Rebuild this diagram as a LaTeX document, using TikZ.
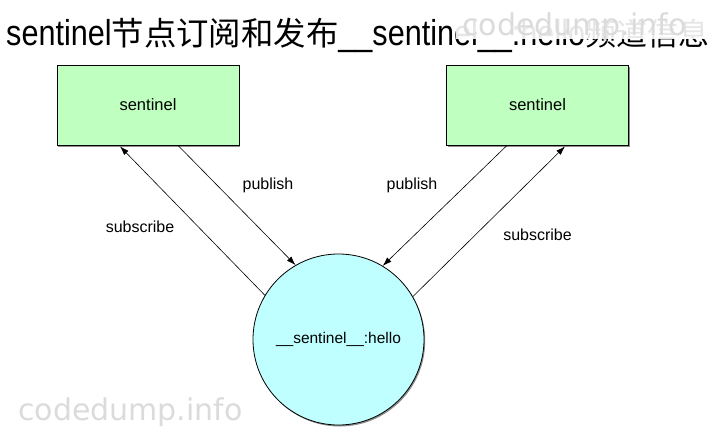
\documentclass[tikz,border=0pt]{standalone}
\usepackage{fontspec}
\setmainfont{Liberation Sans}
\newfontfamily\titlefont[FakeStretch=0.85]{Liberation Sans}
\newfontfamily\cjk{Noto Sans CJK SC}
\newfontfamily\wmfont{DejaVu Sans}
\usetikzlibrary{arrows.meta,shadows,calc}
\definecolor{boxgreen}{RGB}{191,255,191}
\definecolor{circcyan}{RGB}{191,255,255}
\begin{document}
\begin{tikzpicture}[x=1pt,y=-1pt,
  sbox/.style={draw=black, fill=boxgreen, line width=0.8pt, minimum width=182pt, minimum height=80pt, inner sep=0pt,
    font=\fontsize{16.5}{18}\selectfont, drop shadow={shadow xshift=1.2pt,shadow yshift=-1.5pt,opacity=0.45,fill=black}},
  chan/.style={circle, draw=black, fill=circcyan, line width=0.8pt, minimum size=171pt, inner sep=0pt,
    font=\fontsize{15.5}{18}\selectfont, drop shadow={shadow xshift=1.2pt,shadow yshift=-1.5pt,opacity=0.45,fill=black}},
  lbl/.style={font=\fontsize{16}{18}\selectfont, inner sep=0pt},
  conn/.style={draw=black, line width=0.6pt, -{Latex[length=9pt,width=6pt]}},
  wm/.style={text=gray!28, font=\wmfont\fontsize{30}{32}\selectfont, inner sep=0pt}
]
\useasboundingbox (0,0) rectangle (723,431);
% title
\node[anchor=base west, inner sep=0pt] (title) at (6,45)
  {{\titlefont\fontsize{36}{40}\selectfont sentinel}{\cjk\fontsize{32.4}{40}\selectfont 节点订阅和发布}{\titlefont\fontsize{36}{40}\selectfont \_\_sentinel\_\_:hello}{\cjk\fontsize{31}{40}\selectfont 频道信息}};
% watermark over title
\fill[white, opacity=0.9] (456,4) rectangle (723,39);
\node[wm, anchor=base west] (wm1) at (462,35) {codedump.info};
% nodes
\node[sbox] (s1) at (148,105) {sentinel};
\node[sbox] (s2) at (537.5,105) {sentinel};
\node[chan] (ch) at (338.5,339.5) {\_\_sentinel\_\_:hello};
% connectors
\draw[conn] (ch.149.5) -- ($(s1.south)+(-28pt,-1pt)$);
\draw[conn] ($(s1.south)+(30pt,0pt)$) -- (ch.120.7);
\draw[conn] ($(s2.south)+(-30.5pt,0pt)$) -- (ch.59.1);
\draw[conn] (ch.30.8) -- ($(s2.south)+(27.5pt,-1pt)$);
% labels
\node[lbl] (pl) at (268,185) {publish};
\node[lbl] (sl) at (140,227) {subscribe};
\node[lbl] (pr) at (412,185) {publish};
\node[lbl] (sr) at (537.5,235) {subscribe};
% bottom watermark
\node[wm, anchor=base west] (wm2) at (18,420) {codedump.info};
\end{tikzpicture}
\end{document}
